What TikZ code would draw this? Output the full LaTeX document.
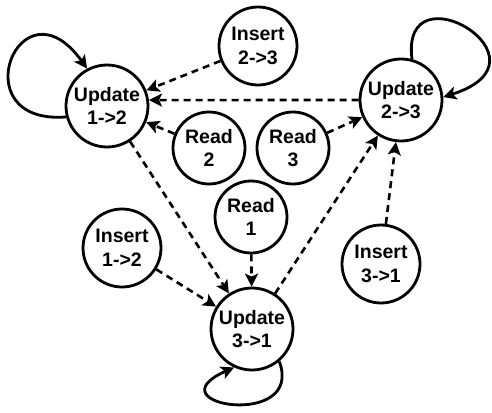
\documentclass[tikz,border=0pt]{standalone}
\usepackage{fontspec}
\setmainfont{Liberation Sans}
\usetikzlibrary{arrows.meta}
\begin{document}
\begin{tikzpicture}[x=1pt,y=-1pt,
  st/.style={circle,draw,line width=2.8pt,inner sep=0pt,align=center,
    font=\fontsize{19.5}{23.5}\selectfont\bfseries},
  big/.style={st,minimum size=82pt},
  mid/.style={st,minimum size=78pt},
  small/.style={st,minimum size=72pt},
  tip/.style={-{Stealth[length=13pt,width=13pt,inset=3pt]}},
  dep/.style={tip,line width=2.6pt,dash pattern=on 7pt off 5pt},
  loopl/.style={tip,line width=2.8pt}]
\useasboundingbox (0,0) rectangle (492,412);
\node[big] (u12) at (107,106) {Update\\1->2};
\node[big] (u23) at (401,100) {Update\\2->3};
\node[big] (u31) at (252,329) {Update\\3->1};
\node[mid] (i23) at (258,46) {Insert\\2->3};
\node[mid] (i12) at (122,248) {Insert\\1->2};
\node[mid] (i31) at (381,264) {Insert\\3->1};
\node[small] (r2) at (209,148) {Read\\2};
\node[small] (r3) at (293,148) {Read\\3};
\node[small] (r1) at (251,217) {Read\\1};
\draw[dep] (i23) -- (u12);
\draw[dep] (u23.west) -- (u12.8);
\draw[dep] (r2) -- (u12);
\draw[dep] (r3) -- (u23);
\draw[dep] (u12) -- (u31);
\draw[dep] (r1) -- (u31);
\draw[dep] (i12) -- (u31);
\draw[dep] (u31) -- (u23);
\draw[dep] (i31) -- (u23);
\draw[loopl] (u12.195) .. controls (-40,125) and (20,-25) .. (u12.118);
\draw[loopl] (u23.75) .. controls (400,-35) and (560,60) .. (u23.4);
\draw[loopl] (u31.-50) .. controls (305,430) and (150,405) .. (u31.-115);
\end{tikzpicture}
\end{document}
